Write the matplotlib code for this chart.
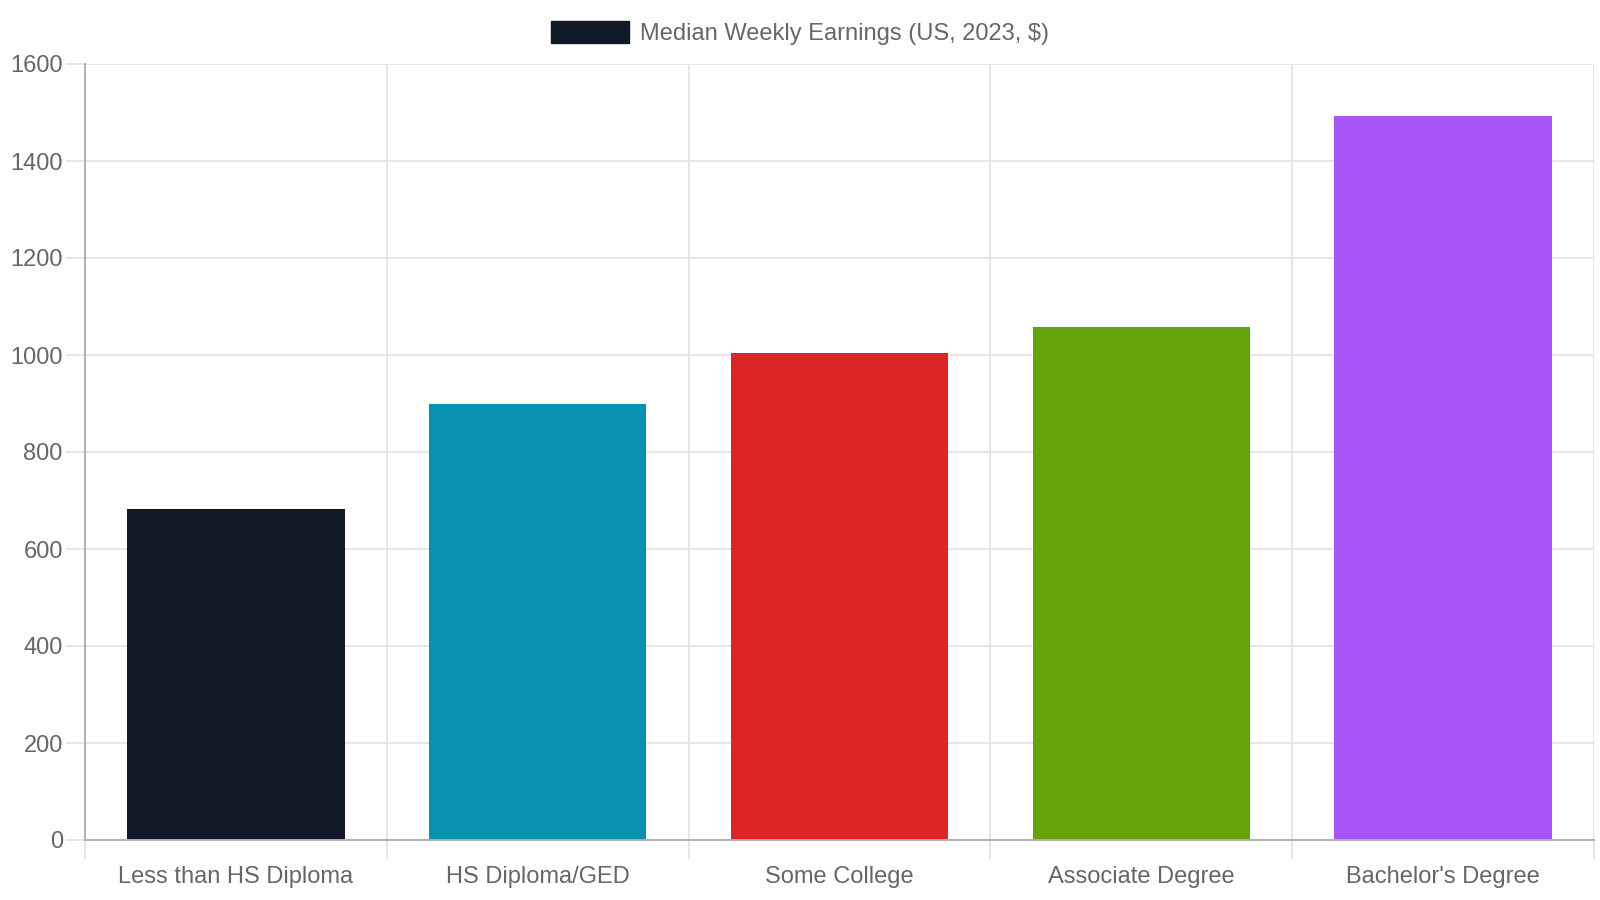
import matplotlib
matplotlib.use("Agg")
import matplotlib.pyplot as plt
from matplotlib.patches import Patch
import numpy as np

plt.rcParams['font.family'] = ['Liberation Sans', 'DejaVu Sans']

# data
categories = ["Less than HS Diploma", "HS Diploma/GED", "Some College",
              "Associate Degree", "Bachelor's Degree"]
earnings = [682, 899, 1005, 1058, 1493]
colors = ["#111827", "#0891b2", "#dc2626", "#65a30d", "#a855f7"]
series_label = "Median Weekly Earnings (US, 2023, $)"
y_ticks = [0, 200, 400, 600, 800, 1000, 1200, 1400, 1600]

text_color = "#666666"
grid_color = "#e5e5e5"
axis_color = "#b0b0b0"

fig = plt.figure(figsize=(16, 9), dpi=100)
ax = fig.add_axes([85 / 1600, 60 / 900, 1509 / 1600, 776 / 900])

x = np.arange(len(categories))
ax.bar(x, earnings, width=0.72, color=colors, zorder=3)

ax.set_xlim(-0.5, len(categories) - 0.5)
ax.set_ylim(0, 1600)

# y axis
ax.set_yticks(y_ticks)
ax.yaxis.grid(True, color=grid_color, linewidth=1.4, zorder=0)
ax.tick_params(axis='y', length=14, width=1.4, color=grid_color,
               labelsize=17, labelcolor=text_color, pad=2)

# x axis: gridlines between categories
ax.set_xticks(x)
ax.set_xticklabels(categories)
ax.set_xticks(np.arange(len(categories) + 1) - 0.5, minor=True)
ax.xaxis.grid(True, which='minor', color=grid_color, linewidth=1.4, zorder=0)
ax.tick_params(axis='x', which='major', length=0, labelsize=17,
               labelcolor=text_color, pad=19)
ax.tick_params(axis='x', which='minor', length=14, width=1.4, color=grid_color)

for side in ['top', 'right']:
    ax.spines[side].set_visible(False)
for side in ['left', 'bottom']:
    ax.spines[side].set_color(axis_color)
    ax.spines[side].set_linewidth(1.4)
    ax.spines[side].set_zorder(4)

handle = Patch(facecolor=colors[0], edgecolor=colors[0])
fig.legend([handle], [series_label], loc='upper center',
           bbox_to_anchor=(0.5, 1 - 12 / 900), frameon=False, fontsize=17,
           labelcolor=text_color, handlelength=3.3, handleheight=1.0,
           handletextpad=0.5, borderaxespad=0)

plt.savefig('out.png', dpi=100)
plt.close()
